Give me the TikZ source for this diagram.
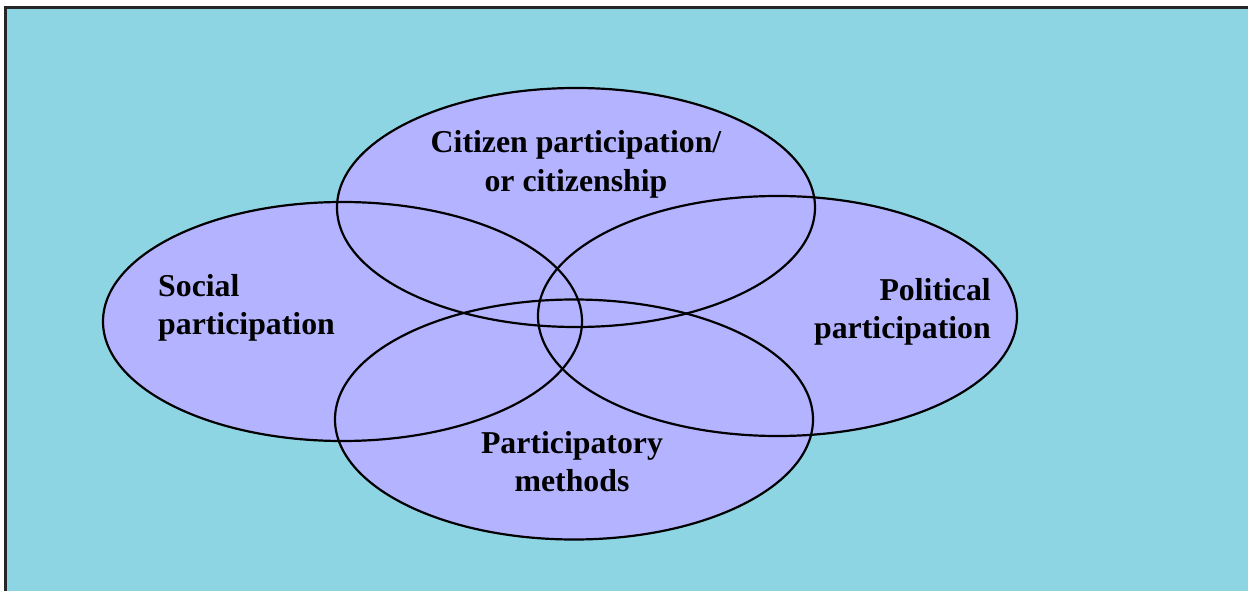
\documentclass[tikz,border=0pt]{standalone}
\usepackage{fontspec}
\setmainfont{Liberation Serif}
\definecolor{bgcyan}{HTML}{8DD5E3}
\definecolor{ellfill}{HTML}{B3B3FF}
\begin{document}
\begin{tikzpicture}[x=1pt,y=-1pt,
  ellstyle/.style={draw=black,line width=2.2pt},
  lbl/.style={font=\fontsize{31.8}{38.5}\selectfont\bfseries,inner sep=0pt}]
\useasboundingbox (0,0) rectangle (1248,591);
\fill[white] (0,0) rectangle (1248,591);
\fill[bgcyan] (5,8) rectangle (1248,591);
\draw[line width=3pt,black!85] (5,591) -- (5,8) -- (1248,8);
% fills
\fill[ellfill] (576,207.5) ellipse [x radius=239,y radius=119.5];
\fill[ellfill] (342.5,321.5) ellipse [x radius=239.5,y radius=119.5];
\fill[ellfill] (777.5,316) ellipse [x radius=239.5,y radius=120];
\fill[ellfill] (574,419.5) ellipse [x radius=239,y radius=120];
% outlines
\draw[ellstyle] (576,207.5) ellipse [x radius=239,y radius=119.5];
\draw[ellstyle] (342.5,321.5) ellipse [x radius=239.5,y radius=119.5];
\draw[ellstyle] (777.5,316) ellipse [x radius=239.5,y radius=120];
\draw[ellstyle] (574,419.5) ellipse [x radius=239,y radius=120];
% labels
\node[lbl,align=center] (citizen) at (576,164.5) {Citizen participation/\\or citizenship};
\node[lbl,align=left,anchor=west] (social) at (158,308) {Social\\participation};
\node[lbl,align=right,anchor=east] (political) at (991,312) {Political\\participation};
\node[lbl,align=center] (methods) at (572,461.5) {Participatory\\methods};
\end{tikzpicture}
\end{document}
